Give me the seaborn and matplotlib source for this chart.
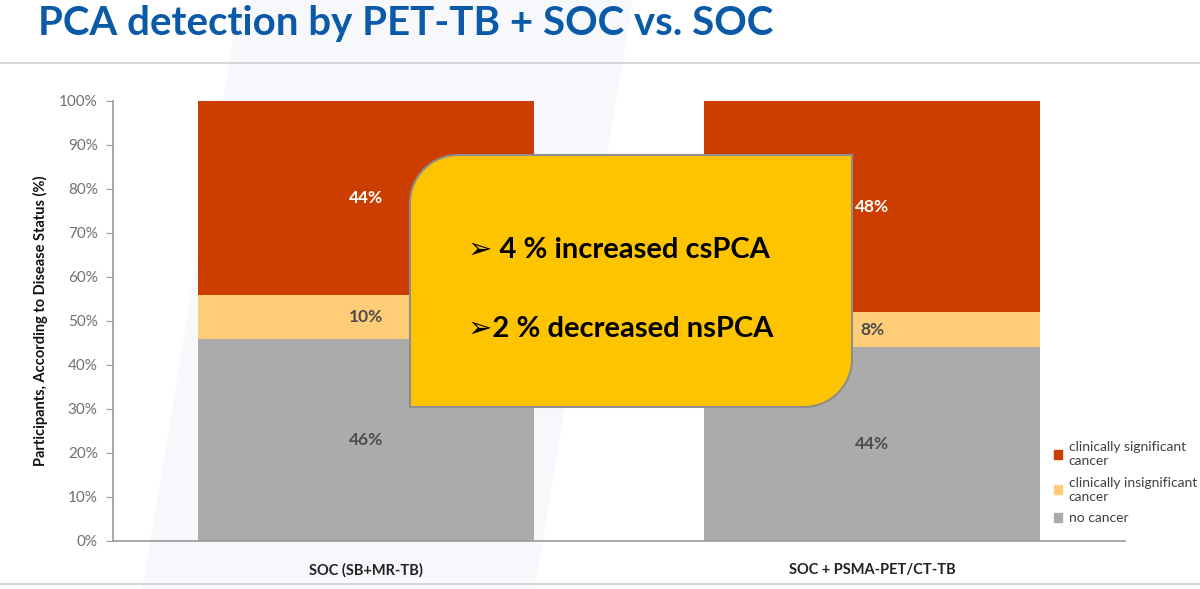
import numpy as np
import pandas as pd
import seaborn as sns
import matplotlib.pyplot as plt
from matplotlib.path import Path
from matplotlib.patches import PathPatch, Polygon
from matplotlib.lines import Line2D

# data
categories = ["SOC (SB+MR-TB)", "SOC + PSMA-PET/CT-TB"]
no_cancer = [46, 44]
insignificant = [10, 8]
significant = [44, 48]
series_names = ["no cancer", "clinically insignificant\ncancer", "clinically significant\ncancer"]
series_colors = ["#ABABAB", "#FFCC77", "#CC3D00"]
label_colors = ["#4D4D4D", "#4D4D4D", "white"]
y_ticks = [0, 10, 20, 30, 40, 50, 60, 70, 80, 90, 100]
callout_lines = ["\u27a2 4 % increased csPCA", "\u27a22 % decreased nsPCA"]
title = "PCA detection by PET-TB + SOC vs. SOC"

sns.set_style("white")
plt.rcParams['font.family'] = ['Lato', 'DejaVu Sans']

fig = plt.figure(figsize=(12, 5.89), dpi=100)
fig.patch.set_facecolor("white")

# faint slide decoration stripe, behind everything
fig.patches.append(Polygon([(142/1200, 0), (535/1200, 0), (633/1200, 1), (240/1200, 1)],
                           closed=True, transform=fig.transFigure, facecolor="#F6F8FB",
                           edgecolor="none", zorder=-5))
# slide rules
fig.add_artist(Line2D([0, 1], [1 - 63/589, 1 - 63/589], color="#D0D0D0", lw=1.2, transform=fig.transFigure))
fig.add_artist(Line2D([0, 1], [1 - 584/589, 1 - 584/589], color="#D0D0D0", lw=1.2, transform=fig.transFigure))

fig.text(38/1200, 1 - 24/589, title, fontsize=29, fontweight="bold", color="#0B5AA8",
         va="center", ha="left")

ax = fig.add_axes([113/1200, 1 - 541/589, 1012/1200, 440/589])
ax.set_facecolor("none")

df = pd.DataFrame({"category": categories, "none": no_cancer,
                   "insig": insignificant, "sig": significant})
stack = [df["none"].values, df["insig"].values, df["sig"].values]
bottom = np.zeros(len(categories))
for vals, name, col, lc in zip(stack, series_names, series_colors, label_colors):
    sns.barplot(x=np.arange(len(categories)), y=vals, bottom=bottom, color=col,
                width=0.666, ax=ax, native_scale=True, saturation=1, linewidth=0)
    for i, v in enumerate(vals):
        ax.text(i, bottom[i] + v / 2, f"{v}%", ha="center", va="center",
                fontsize=12.5, fontweight="bold", color=lc)
    bottom = bottom + vals

ax.set_xlim(-0.5, 1.5)
ax.set_ylim(0, 100)
ax.set_yticks(y_ticks)
ax.set_yticklabels([f"{t}%" for t in y_ticks], fontsize=11, color="#707070")
ax.set_xticks([-0.5, 0.5, 1.5])
ax.set_xticklabels([])
ax.set_xticks([0, 1], minor=True)
ax.set_xticklabels(categories, minor=True, fontsize=10.5, fontweight="bold", color="#222222")
ax.tick_params(axis="x", which="minor", length=0, pad=16)
ax.tick_params(axis="x", which="major", length=5, color="#9A9A9A", direction="out")
ax.tick_params(axis="y", length=5, color="#9A9A9A", direction="out", left=True, pad=6)
for s in ["top", "right"]:
    ax.spines[s].set_visible(False)
for s in ["left", "bottom"]:
    ax.spines[s].set_color("#9A9A9A")
    ax.spines[s].set_linewidth(1.2)
ax.set_xlabel("")
ax.set_ylabel("Participants, According to Disease Status (%)", fontsize=10.5,
              fontweight="bold", color="#111111", labelpad=8)

handles = [plt.Rectangle((0, 0), 1, 1, color=c) for c in series_colors[::-1]]
leg = ax.legend(handles, series_names[::-1], loc="lower left",
                bbox_to_anchor=(1048/1200, 1 - 530/589), bbox_transform=fig.transFigure,
                frameon=False, fontsize=10, handlelength=0.6, handleheight=0.6,
                handletextpad=0.5, labelspacing=0.7, borderaxespad=0)
for t in leg.get_texts():
    t.set_color("#404040")

# yellow callout with two rounded corners
x0, x1 = 410/1200, 852/1200
y0, y1 = 1 - 407/589, 1 - 155/589
rx, ry = 48/1200, 48/589
k = 0.5523
verts = [(x0, y0), (x1 - rx, y0),
         (x1 - rx + k*rx, y0), (x1, y0 + ry - k*ry), (x1, y0 + ry),
         (x1, y1), (x0 + rx, y1),
         (x0 + rx - k*rx, y1), (x0, y1 - ry + k*ry), (x0, y1 - ry),
         (x0, y0)]
codes = [Path.MOVETO, Path.LINETO, Path.CURVE4, Path.CURVE4, Path.CURVE4,
         Path.LINETO, Path.LINETO, Path.CURVE4, Path.CURVE4, Path.CURVE4, Path.CLOSEPOLY]
fig.patches.append(PathPatch(Path(verts, codes), transform=fig.transFigure,
                             facecolor="#FFC400", edgecolor="#8E8E8E", lw=1.5, zorder=5))
fig.text(468/1200, 1 - 250/589, callout_lines[0], fontsize=21, fontweight="bold",
         color="black", ha="left", va="center", zorder=6, family=['Lato', 'DejaVu Sans'])
fig.text(468/1200, 1 - 329/589, callout_lines[1], fontsize=21, fontweight="bold",
         color="black", ha="left", va="center", zorder=6, family=['Lato', 'DejaVu Sans'])

fig.savefig("out.png", dpi=100, facecolor="white")
